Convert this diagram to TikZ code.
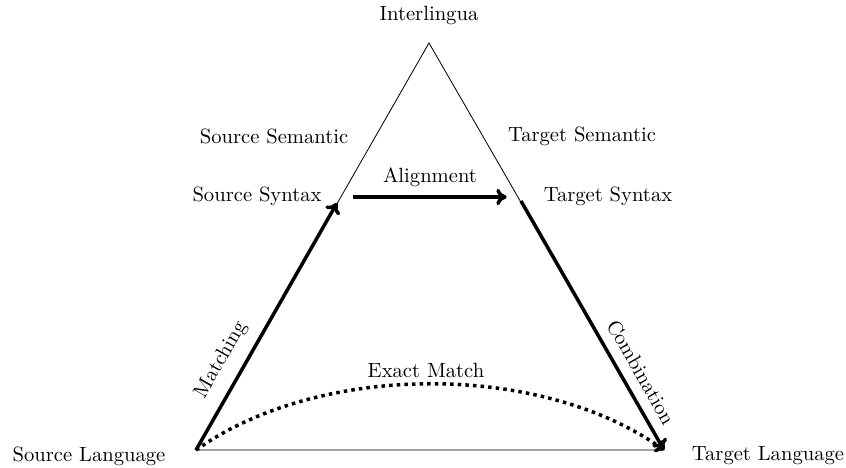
\documentclass[tikz,border=0pt]{standalone}
\usetikzlibrary{arrows.meta}
\begin{document}
\begin{tikzpicture}[x=0.485pt,y=-0.485pt,
  edge/.style={line width=0.4pt},
  flow/.style={line width=1.7pt,-{To[length=5pt,width=8pt]}},
  lbl/.style={font=\normalsize,inner sep=1pt}]
\useasboundingbox (0,0) rectangle (846,468);
% corners of the triangle
\coordinate (SL) at (196,450);
\coordinate (TL) at (664,450);
\coordinate (IL) at (429,43);
\coordinate (SS) at (341,197);
\coordinate (TS) at (519,197);
% thin outline
\draw[edge] (SL) -- (IL) -- (TL) -- cycle;
% labels
\node[lbl] (il) at (429,15) {Interlingua};
\node[lbl] (ssem) at (274,136) {Source Semantic};
\node[lbl] (tsem) at (582,136) {Target Semantic};
\node[lbl] (ssyn) at (257,196) {Source Syntax};
\node[lbl] (tsyn) at (608,196) {Target Syntax};
\node[lbl] (sl) at (89,456) {Source Language};
\node[lbl] (tl) at (768,456) {Target Language};
% transfer paths
\coordinate (ssa) at (337,203);
\coordinate (tsa) at (521,201);
\draw[flow] (SL) -- (ssa);
\draw[flow] ([xshift=6]SS) -- node[above=3pt,lbl] (align) {Alignment} ([xshift=-6]TS);
\draw[flow] (tsa) -- (TL);
\node[lbl,rotate=60.2] (match) at (221,360) {Matching};
\node[lbl,rotate=-60.2] (comb) at (641,372) {Combination};
% direct path
\draw[line width=1.7pt,dotted,-{To[length=4pt,width=7pt]}] (SL) .. controls (320,362) and (540,362) .. (TL);
\node[lbl] (exact) at (426,370) {Exact Match};
\end{tikzpicture}
\end{document}
